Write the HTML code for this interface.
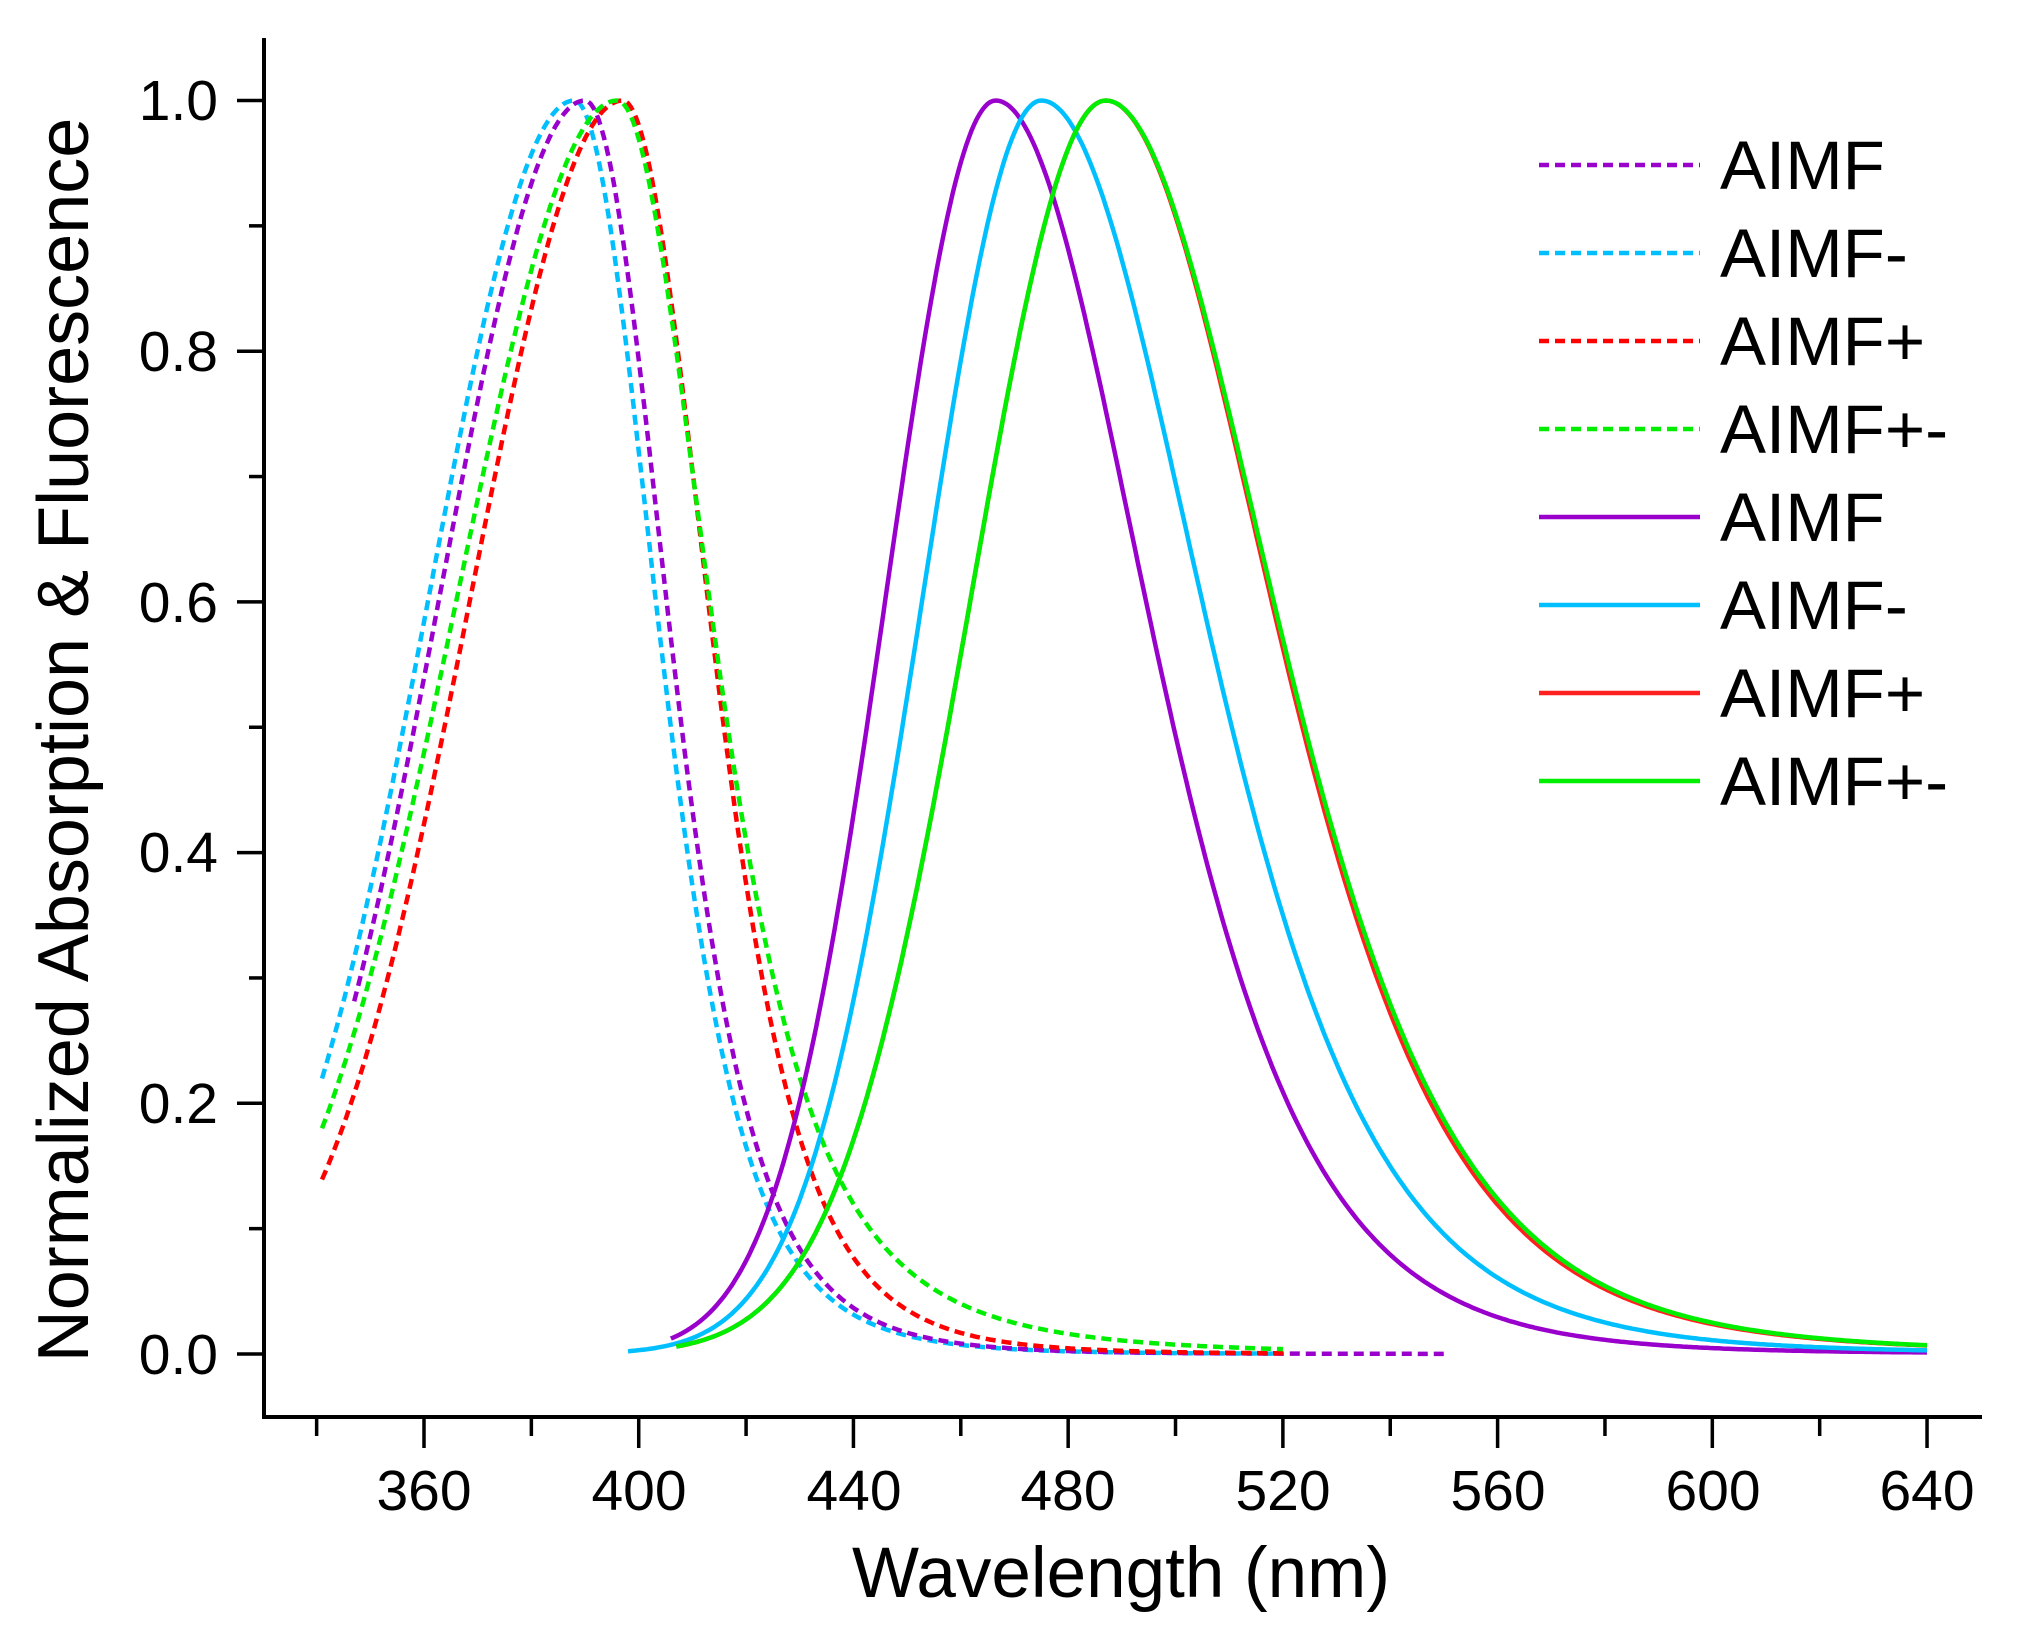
<!DOCTYPE html>
<html><head><meta charset="utf-8"><style>
html,body{margin:0;padding:0;background:#fff;}
svg{display:block;}
text{font-family:"Liberation Sans",Arial,sans-serif;fill:#000;}
</style></head><body>
<svg id="s" width="2020" height="1631" viewBox="0 0 2020 1631" xmlns="http://www.w3.org/2000/svg">
<rect width="2020" height="1631" fill="#fff"/>
<g id="curves" fill="none" stroke-width="4.5"></g>
<g stroke="#000" stroke-width="4" fill="none">
<line x1="264" y1="38" x2="264" y2="1419"/>
<line x1="262" y1="1417" x2="1982" y2="1417"/>
</g>
<g id="ticks" stroke="#000" stroke-width="3.5"></g>
<g font-size="57" text-anchor="end">
<text x="218" y="120">1.0</text>
<text x="218" y="371">0.8</text>
<text x="218" y="622">0.6</text>
<text x="218" y="872">0.4</text>
<text x="218" y="1123">0.2</text>
<text x="218" y="1374">0.0</text>
</g>
<g font-size="57" text-anchor="middle">
<text x="424" y="1510">360</text>
<text x="639" y="1510">400</text>
<text x="854" y="1510">440</text>
<text x="1068" y="1510">480</text>
<text x="1283" y="1510">520</text>
<text x="1498" y="1510">560</text>
<text x="1713" y="1510">600</text>
<text x="1927" y="1510">640</text>
</g>
<text x="1121" y="1597" font-size="71" text-anchor="middle">Wavelength (nm)</text>
<text transform="translate(88,740) rotate(-90)" font-size="72" text-anchor="middle">Normalized Absorption &amp; Fluorescence</text>
<g stroke-width="4.5">
<line x1="1539" y1="165" x2="1700" y2="165" stroke="#9900CC" stroke-dasharray="10,6"/>
<line x1="1539" y1="253" x2="1700" y2="253" stroke="#00BFFF" stroke-dasharray="10,6"/>
<line x1="1539" y1="341" x2="1700" y2="341" stroke="#FF0000" stroke-dasharray="10,6"/>
<line x1="1539" y1="429" x2="1700" y2="429" stroke="#00EE00" stroke-dasharray="10,6"/>
<line x1="1539" y1="517" x2="1700" y2="517" stroke="#9900CC"/>
<line x1="1539" y1="605" x2="1700" y2="605" stroke="#00BFFF"/>
<line x1="1539" y1="693" x2="1700" y2="693" stroke="#FF2020"/>
<line x1="1539" y1="781" x2="1700" y2="781" stroke="#00EE00"/>
</g>
<g font-size="69">
<text x="1720" y="189">AIMF</text>
<text x="1720" y="277">AIMF-</text>
<text x="1720" y="365">AIMF+</text>
<text x="1720" y="453">AIMF+-</text>
<text x="1720" y="541">AIMF</text>
<text x="1720" y="629">AIMF-</text>
<text x="1720" y="717">AIMF+</text>
<text x="1720" y="805">AIMF+-</text>
</g>
</svg>
<script>
(function(){
var NS="http://www.w3.org/2000/svg";
function X(l){return 424+(l-360)*5.368;}
function Y(v){return 1354-1253.5*v;}
var tk=document.getElementById('ticks');
for(var l=340;l<=640;l+=20){var ln=document.createElementNS(NS,'line');var maj=(l%40==0);
ln.setAttribute('x1',X(l));ln.setAttribute('x2',X(l));ln.setAttribute('y1',1419);ln.setAttribute('y2',maj?1448:1436);tk.appendChild(ln);}
for(var i=0;i<=10;i++){var v=i*0.1;var ln=document.createElementNS(NS,'line');var maj=(i%2==0);
ln.setAttribute('y1',Y(v));ln.setAttribute('y2',Y(v));ln.setAttribute('x1',262);ln.setAttribute('x2',maj?237:249);tk.appendChild(ln);}
function sech2(d,w){var c=Math.cosh(d/w);return 1/(c*c);}
function abs(p,sl,g,pw){return function(l){var d=l-p;if(d<0)return Math.exp(-d*d/(2*sl*sl));return Math.pow(1+(d/g)*(d/g),-pw);};}
function em(p,sl,wr,tw){return function(l){var d=l-p;if(d<0)return Math.exp(-d*d/(2*sl*sl));var a=sech2(d,wr);
 var tail=tw*Math.exp(-d/70)*(1-Math.exp(-d*d/3000));return Math.min(1,a+tail);};}
var series=[
 {f:abs(388,27,35.3,3),a:341,b:520,c:'#00BFFF',dash:true},
 {f:abs(390,27,35.3,3),a:347,b:550,c:'#9900CC',dash:true},
 {f:abs(397,28.2,37,3),a:341,b:520,c:'#FF0000',dash:true},
 {f:abs(396,29.7,32,2),a:341,b:520,c:'#00EE00',dash:true},
 {f:em(466.5,20.4,37.5,0.01),a:406,b:640,c:'#9900CC'},
 {f:em(475,22,40,0.02),a:398,b:640,c:'#00BFFF'},
 {f:em(487,25,41,0.04),a:407,b:640,c:'#FF2020'},
 {f:em(487,25,41.5,0.04),a:407,b:640,c:'#00EE00'}
];
var g=document.getElementById('curves');
series.forEach(function(s){var pts=[];for(var l=s.a;l<=s.b+0.001;l+=0.5){pts.push(X(l).toFixed(1)+','+Y(s.f(l)).toFixed(1));}
var p=document.createElementNS(NS,'polyline');p.setAttribute('points',pts.join(' '));p.setAttribute('stroke',s.c);
if(s.dash)p.setAttribute('stroke-dasharray','10,6');g.appendChild(p);});
})();
</script>
</body></html>
